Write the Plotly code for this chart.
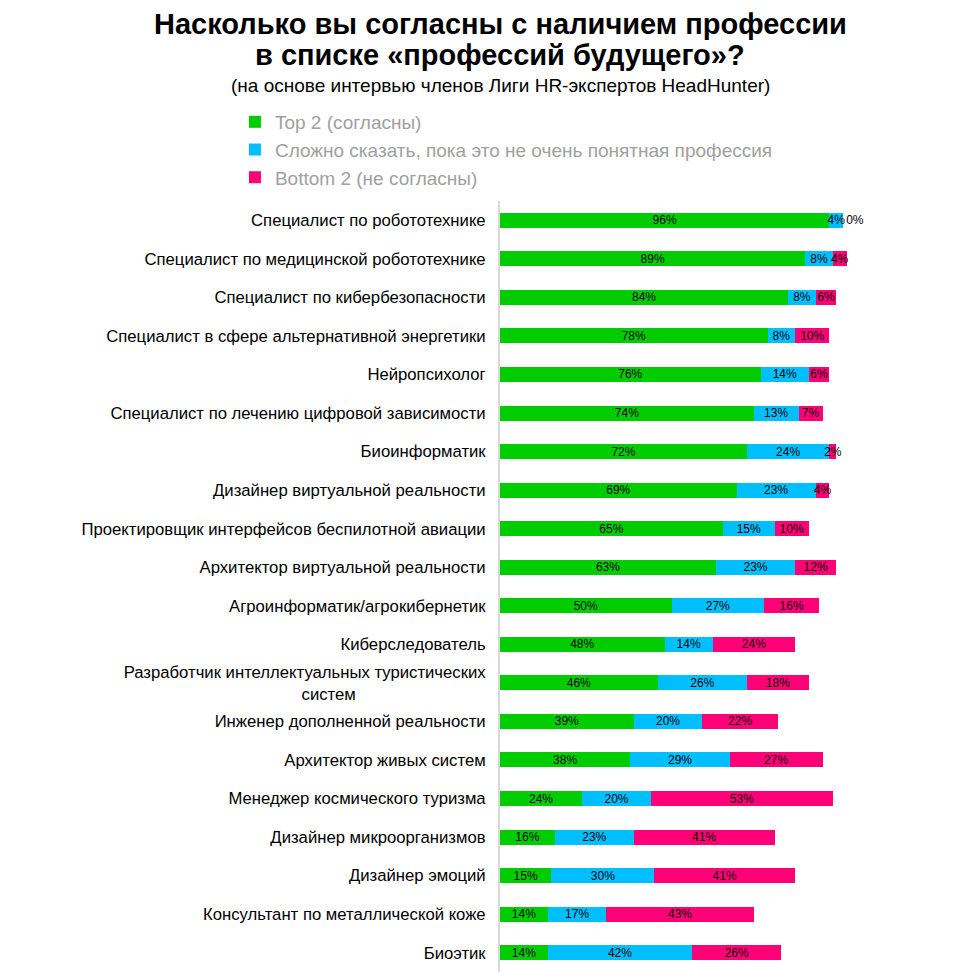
import plotly.graph_objects as go

professions = [
    "Специалист по робототехнике",
    "Специалист по медицинской робототехнике",
    "Специалист по кибербезопасности",
    "Специалист в сфере альтернативной энергетики",
    "Нейропсихолог",
    "Специалист по лечению цифровой зависимости",
    "Биоинформатик",
    "Дизайнер виртуальной реальности",
    "Проектировщик интерфейсов беспилотной авиации",
    "Архитектор виртуальной реальности",
    "Агроинформатик/агрокибернетик",
    "Киберследователь",
    "Разработчик интеллектуальных туристических<br>систем" + "\u00a0" * 28,
    "Инженер дополненной реальности",
    "Архитектор живых систем",
    "Менеджер космического туризма",
    "Дизайнер микроорганизмов",
    "Дизайнер эмоций",
    "Консультант по металлической коже",
    "Биоэтик",
]

top2 = [96, 89, 84, 78, 76, 74, 72, 69, 65, 63, 50, 48, 46, 39, 38, 24, 16, 15, 14, 14]
hard_to_say = [4, 8, 8, 8, 14, 13, 24, 23, 15, 23, 27, 14, 26, 20, 29, 20, 23, 30, 17, 42]
bottom2 = [0, 4, 6, 10, 6, 7, 2, 4, 10, 12, 16, 24, 18, 22, 27, 53, 41, 41, 43, 26]

series = [
    ("Top 2 (согласны)", top2, "#00CC00"),
    ("Сложно сказать, пока это не очень понятная профессия", hard_to_say, "#00BFFF"),
    ("Bottom 2 (не согласны)", bottom2, "#FF0077"),
]

title_lines = [
    "Насколько вы согласны с наличием профессии",
    "в списке «профессий будущего»?",
]
subtitle = "(на основе интервью членов Лиги HR-экспертов HeadHunter)"

fig = go.Figure()
for name, vals, color in series:
    fig.add_trace(go.Bar(
        y=professions,
        x=vals,
        name=name,
        orientation="h",
        marker=dict(color=color, line=dict(width=0)),
        text=[f"{v}%" for v in vals],
        textposition=["outside" if v == 0 else "inside" for v in vals],
        insidetextanchor="middle",
        textangle=0,
        constraintext="none",
        cliponaxis=False,
        textfont=dict(family="Liberation Sans, Arial", size=12, color="black"),
        hoverinfo="x+y+name",
    ))

# the page adds an 8px body margin, so the figure is laid out 8px up/left
fig.update_layout(
    barmode="stack",
    bargap=0.61,
    width=974,
    height=979,
    paper_bgcolor="white",
    plot_bgcolor="white",
    font=dict(family="Liberation Sans, Arial", color="black"),
    margin=dict(l=492, r=53, t=193, b=15, autoexpand=False),
    xaxis=dict(range=[0, 125], visible=False, fixedrange=True),
    yaxis=dict(
        autorange="reversed",
        automargin=False,
        showline=True,
        linecolor="#D9D9D9",
        linewidth=2,
        ticks="",
        ticklabelstandoff=9,
        tickfont=dict(size=16.7, color="black"),
        showgrid=False,
    ),
    legend=dict(
        xref="container",
        yref="container",
        x=0.233,
        y=0.903,
        xanchor="left",
        yanchor="top",
        traceorder="normal",
        orientation="v",
        font=dict(size=19, color="#A0A0A0"),
        itemwidth=30,
        bgcolor="rgba(0,0,0,0)",
    ),
    annotations=[
        dict(
            text=f"<b>{title_lines[0]}</b>",
            xref="paper", yref="paper", x=0.0, y=1.0,
            xanchor="center", yanchor="middle",
            yshift=177,
            showarrow=False,
            font=dict(size=29, color="black"),
        ),
        dict(
            text=f"<b>{title_lines[1]}</b>",
            xref="paper", yref="paper", x=0.0, y=1.0,
            xanchor="center", yanchor="middle",
            yshift=146,
            showarrow=False,
            font=dict(size=29, color="black"),
        ),
        dict(
            text=subtitle,
            xref="paper", yref="paper", x=0.0, y=1.0,
            xanchor="center", yanchor="middle",
            yshift=116,
            showarrow=False,
            font=dict(size=19, color="black"),
        ),
    ],
)

fig.write_html("out.html")
